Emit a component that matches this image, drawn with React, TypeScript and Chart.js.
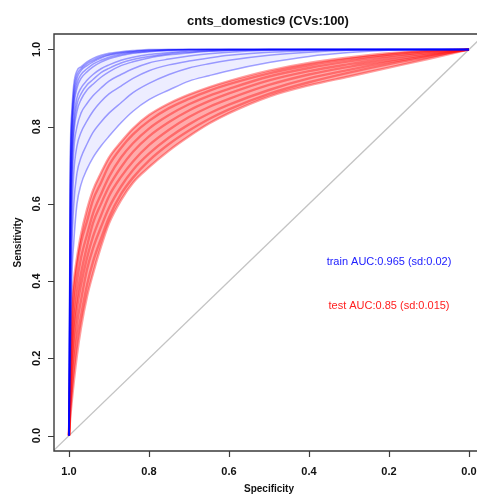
import { useEffect, useRef } from "react";
import { Chart, registerables } from "chart.js";

Chart.register(...registerables);

const chartTitle = "cnts_domestic9 (CVs:100)";
const xTitle = "Specificity";
const yTitle = "Sensitivity";
const trainLabel = "train AUC:0.965 (sd:0.02)";
const testLabel = "test AUC:0.85 (sd:0.015)";
const trainLabelPos = [0.2, 0.45];
const testLabelPos = [0.2, 0.335];
const tickValues = [1.0, 0.8, 0.6, 0.4, 0.2, 0.0];

// specificity grid shared by all curves
const specificity = [1, 0.997, 0.993, 0.988, 0.98, 0.97, 0.955, 0.94, 0.92, 0.9, 0.87, 0.84, 0.8, 0.75, 0.7, 0.65, 0.6, 0.5, 0.4, 0.3, 0.2, 0.1, 0];

// train (blue) curves — sensitivity at each specificity
const train1 = [0, 0.7, 0.84, 0.91, 0.945, 0.955, 0.968, 0.977, 0.985, 0.99, 0.994, 0.997, 1, 1, 1, 1, 1, 1, 1, 1, 1, 1, 1];
const train2 = [0, 0.66, 0.82, 0.895, 0.935, 0.95, 0.963, 0.972, 0.981, 0.987, 0.992, 0.995, 0.998, 1, 1, 1, 1, 1, 1, 1, 1, 1, 1];
const train3 = [0, 0.62, 0.8, 0.88, 0.925, 0.945, 0.958, 0.968, 0.978, 0.985, 0.99, 0.994, 0.997, 0.999, 1, 1, 1, 1, 1, 1, 1, 1, 1];
const train4 = [0, 0.58, 0.78, 0.865, 0.912, 0.935, 0.95, 0.962, 0.972, 0.98, 0.987, 0.992, 0.995, 0.998, 1, 1, 1, 1, 1, 1, 1, 1, 1];
const train5 = [0, 0.55, 0.76, 0.85, 0.9, 0.925, 0.942, 0.955, 0.967, 0.976, 0.984, 0.99, 0.994, 0.997, 0.999, 1, 1, 1, 1, 1, 1, 1, 1];
const train6 = [0, 0.48, 0.72, 0.82, 0.875, 0.9, 0.92, 0.935, 0.95, 0.96, 0.972, 0.98, 0.987, 0.992, 0.996, 0.998, 1, 1, 1, 1, 1, 1, 1];
const train7 = [0, 0.45, 0.7, 0.8, 0.858, 0.885, 0.908, 0.922, 0.94, 0.951, 0.965, 0.974, 0.982, 0.989, 0.993, 0.996, 0.998, 1, 1, 1, 1, 1, 1];
const train8 = [0, 0.42, 0.67, 0.78, 0.84, 0.87, 0.895, 0.91, 0.928, 0.942, 0.958, 0.968, 0.978, 0.986, 0.991, 0.995, 0.997, 1, 1, 1, 1, 1, 1];
const train9 = [0, 0.35, 0.62, 0.74, 0.8, 0.835, 0.86, 0.88, 0.9, 0.918, 0.935, 0.95, 0.965, 0.975, 0.983, 0.989, 0.993, 0.998, 1, 1, 1, 1, 1];
const train10 = [0, 0.28, 0.55, 0.68, 0.75, 0.785, 0.815, 0.84, 0.865, 0.885, 0.905, 0.925, 0.945, 0.96, 0.97, 0.978, 0.985, 0.993, 0.997, 1, 1, 1, 1];
const train11 = [0, 0.22, 0.48, 0.6, 0.68, 0.72, 0.755, 0.785, 0.812, 0.835, 0.862, 0.888, 0.912, 0.935, 0.952, 0.963, 0.972, 0.985, 0.993, 0.998, 1, 1, 1];
const train12 = [0, 0.15, 0.4, 0.5, 0.6, 0.65, 0.69, 0.72, 0.75, 0.775, 0.81, 0.84, 0.87, 0.895, 0.918, 0.932, 0.945, 0.966, 0.982, 0.992, 0.998, 1, 1];

// test (red) curves
const test1 = [0, 0.2, 0.34, 0.4, 0.46, 0.52, 0.585, 0.635, 0.68, 0.72, 0.76, 0.795, 0.83, 0.86, 0.883, 0.902, 0.918, 0.945, 0.965, 0.979, 0.99, 0.997, 1];
const test2 = [0, 0.17, 0.29, 0.37, 0.44, 0.5, 0.555, 0.61, 0.655, 0.7, 0.745, 0.78, 0.815, 0.848, 0.872, 0.893, 0.91, 0.938, 0.959, 0.975, 0.987, 0.996, 1];
const test3 = [0, 0.14, 0.25, 0.33, 0.4, 0.46, 0.52, 0.575, 0.625, 0.67, 0.72, 0.757, 0.795, 0.83, 0.858, 0.88, 0.898, 0.93, 0.952, 0.969, 0.983, 0.993, 1];
const test4 = [0, 0.11, 0.21, 0.29, 0.36, 0.42, 0.49, 0.55, 0.6, 0.645, 0.695, 0.735, 0.775, 0.812, 0.842, 0.866, 0.886, 0.92, 0.944, 0.962, 0.978, 0.99, 1];
const test5 = [0, 0.09, 0.18, 0.26, 0.33, 0.39, 0.46, 0.515, 0.57, 0.62, 0.67, 0.71, 0.752, 0.792, 0.825, 0.851, 0.872, 0.908, 0.935, 0.955, 0.972, 0.987, 1];
const test6 = [0, 0.075, 0.15, 0.22, 0.29, 0.35, 0.43, 0.485, 0.54, 0.59, 0.645, 0.688, 0.73, 0.772, 0.806, 0.834, 0.857, 0.895, 0.925, 0.947, 0.967, 0.984, 1];
const test7 = [0, 0.06, 0.115, 0.18, 0.25, 0.31, 0.39, 0.45, 0.51, 0.565, 0.625, 0.668, 0.712, 0.755, 0.79, 0.82, 0.845, 0.885, 0.915, 0.94, 0.962, 0.981, 1];
const test8 = [0, 0.045, 0.09, 0.14, 0.21, 0.28, 0.36, 0.42, 0.49, 0.55, 0.61, 0.655, 0.695, 0.738, 0.775, 0.808, 0.835, 0.878, 0.907, 0.93, 0.953, 0.976, 1];

const trainCurves = [train1, train2, train3, train4, train5, train6, train7, train8, train9, train10, train11, train12];
const testCurves = [test1, test2, test3, test4, test5, test6, test7, test8];

// chance line endpoints (specificity, sensitivity)
const chanceX = [1.04, -0.04];
const chanceY = [-0.04, 1.04];

const FONT = "'Liberation Sans', Arial, Helvetica, sans-serif";

const decorPlugin = {
  id: "decor",
  afterDatasetsDraw(chart: any) {
    const { ctx, chartArea: a } = chart;
    const xs = chart.scales.x;
    const ys = chart.scales.y;
    ctx.save();
    ctx.strokeStyle = "#3a3a3a";
    ctx.lineWidth = 1.4;
    ctx.beginPath();
    ctx.moveTo(a.right + 10, a.top);
    ctx.lineTo(a.left, a.top);
    ctx.lineTo(a.left, a.bottom);
    ctx.lineTo(a.right + 10, a.bottom);
    ctx.stroke();
    ctx.lineWidth = 1.2;
    ctx.beginPath();
    tickValues.forEach((v) => {
      const px = Math.round(xs.getPixelForValue(v)) + 0.5;
      ctx.moveTo(px, a.bottom);
      ctx.lineTo(px, a.bottom + 6);
      const py = Math.round(ys.getPixelForValue(v)) + 0.5;
      ctx.moveTo(a.left, py);
      ctx.lineTo(a.left - 6, py);
    });
    ctx.stroke();
    ctx.fillStyle = "#111";
    ctx.font = `bold 11px ${FONT}`;
    ctx.textAlign = "center";
    ctx.textBaseline = "middle";
    tickValues.forEach((v) => {
      ctx.fillText(v.toFixed(1), xs.getPixelForValue(v), a.bottom + 21);
      ctx.save();
      ctx.translate(a.left - 17, ys.getPixelForValue(v));
      ctx.rotate(-Math.PI / 2);
      ctx.fillText(v.toFixed(1), 0, 0);
      ctx.restore();
    });
    ctx.font = `bold 13px ${FONT}`;
    ctx.fillText(chartTitle, 268, 21);
    ctx.font = `bold 10px ${FONT}`;
    ctx.fillText(xTitle, 269, 489);
    ctx.save();
    ctx.translate(18, (a.top + a.bottom) / 2);
    ctx.rotate(-Math.PI / 2);
    ctx.fillText(yTitle, 0, 0);
    ctx.restore();
    ctx.font = `11px ${FONT}`;
    ctx.fillStyle = "#2020ff";
    ctx.fillText(trainLabel, xs.getPixelForValue(trainLabelPos[0]), ys.getPixelForValue(trainLabelPos[1]));
    ctx.fillStyle = "#ff2020";
    ctx.fillText(testLabel, xs.getPixelForValue(testLabelPos[0]), ys.getPixelForValue(testLabelPos[1]));
    ctx.restore();
  },
};

export default function App() {
  const ref = useRef<HTMLCanvasElement | null>(null);
  useEffect(() => {
    if (!ref.current) return;
    const toPts = (ys: number[]) => specificity.map((s, i) => ({ x: s, y: ys[i] }));
    const nTrain = trainCurves.length;
    const datasets: any[] = [];
    trainCurves.forEach((c, i) => {
      datasets.push({
        data: toPts(c),
        borderColor: "rgba(0,0,255,0.36)",
        borderWidth: 1.5,
        backgroundColor: "rgba(0,0,255,0.07)",
        fill: i === 0 ? nTrain - 1 : false,
        pointRadius: 0,
        cubicInterpolationMode: "monotone",
      });
    });
    testCurves.forEach((c, i) => {
      datasets.push({
        data: toPts(c),
        borderColor: "rgba(255,0,0,0.38)",
        borderWidth: 2.4,
        backgroundColor: "rgba(255,0,0,0.33)",
        fill: i === 0 ? nTrain + testCurves.length - 1 : false,
        pointRadius: 0,
        cubicInterpolationMode: "monotone",
      });
    });
    datasets.push({
      data: chanceX.map((x, i) => ({ x, y: chanceY[i] })),
      borderColor: "#c4c4c4",
      borderWidth: 1.3,
      pointRadius: 0,
      fill: false,
    });
    const chart = new Chart(ref.current, {
      type: "line",
      data: { datasets },
      options: {
        animation: false,
        responsive: false,
        maintainAspectRatio: false,
        layout: { padding: { left: 54, top: 34, right: 0, bottom: 44 } },
        scales: {
          x: { type: "linear", reverse: true, min: -0.02, max: 1.0375, display: false },
          y: { type: "linear", min: -0.04, max: 1.04, display: false },
        },
        plugins: {
          legend: { display: false },
          tooltip: { enabled: false },
          filler: { drawTime: "beforeDatasetsDraw" },
        },
      },
      plugins: [decorPlugin],
    });
    return () => chart.destroy();
  }, []);
  return (
    <div style={{ position: "fixed", left: 0, top: 0, width: 477, height: 495, background: "#fff" }}>
      <canvas ref={ref} width={477} height={495} />
    </div>
  );
}
